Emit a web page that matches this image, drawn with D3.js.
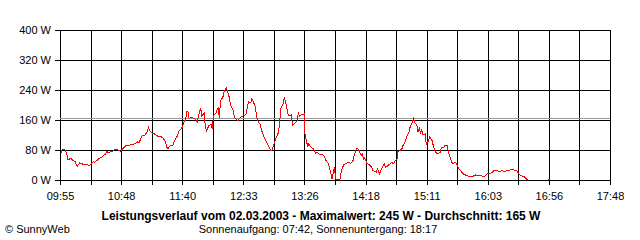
<!DOCTYPE html>
<html>
<head>
<meta charset="utf-8">
<script src="https://cdn.jsdelivr.net/npm/d3@7"></script>
<style>
  body { margin: 0; background: #fff; }
  svg { display: block; font-family: "Liberation Sans", Arial, sans-serif; font-size: 11px; }
</style>
</head>
<body>
<svg id="chart" width="640" height="240"></svg>
<script>
// readings of the power curve, 02.03.2003
const times = [
  "09:56","09:57","09:59","10:00","10:01","10:02","10:04","10:06","10:08","10:09",
  "10:10","10:12","10:14","10:16","10:18","10:20","10:22","10:24","10:25","10:27",
  "10:29","10:31","10:32","10:34","10:35","10:37","10:39","10:40","10:42","10:45",
  "10:47","10:49","10:51","10:52","10:55","10:59","11:02","11:03","11:04","11:06",
  "11:08","11:10","11:11","11:12","11:14","11:16","11:17","11:19","11:21","11:23",
  "11:24","11:25","11:27","11:28","11:30","11:32","11:33","11:34","11:36","11:37",
  "11:38","11:40","11:42","11:43","11:44","11:45","11:46","11:48","11:51","11:53",
  "11:54","11:56","11:57","11:59","12:00","12:01","12:03","12:05","12:06","12:07",
  "12:09","12:11","12:12","12:13","12:15","12:16","12:18","12:20","12:21","12:22",
  "12:24","12:25","12:26","12:28","12:30","12:33","12:35","12:36","12:37","12:39",
  "12:40","12:41","12:43","12:44","12:45","12:47","12:48","12:50","12:52","12:54",
  "12:56","12:57","12:58","13:00","13:01","13:03","13:04","13:05","13:07","13:08",
  "13:09","13:10","13:11","13:12","13:14","13:15","13:17","13:19","13:20","13:21",
  "13:23","13:24","13:25","13:25","13:26","13:27","13:28","13:29","13:31","13:33",
  "13:35","13:36","13:38","13:41","13:43","13:44","13:46","13:48","13:49","13:50",
  "13:51","13:52","13:54","13:56","13:57","13:59","14:01","14:03","14:05","14:07",
  "14:08","14:10","14:11","14:12","14:14","14:15","14:16","14:17","14:19","14:21",
  "14:23","14:24","14:27","14:28","14:30","14:31","14:33","14:34","14:35","14:37",
  "14:39","14:40","14:42","14:43","14:45","14:45","14:47","14:49","14:50","14:52",
  "14:53","14:55","14:56","14:58","14:59","15:00","15:02","15:03","15:04","15:05",
  "15:06","15:07","15:09","15:10","15:12","15:13","15:15","15:16","15:17","15:18",
  "15:20","15:22","15:23","15:25","15:26","15:28","15:29","15:30","15:32","15:33",
  "15:35","15:37","15:38","15:40","15:42","15:44","15:47","15:50","15:52","15:53",
  "15:55","15:57","15:59","16:01","16:02","16:05","16:07","16:09","16:11","16:13",
  "16:15","16:17","16:20","16:22","16:25","16:27","16:28","16:30","16:32","16:34",
  "16:36","16:37","16:50","16:55","16:56"
];
const watts = [
  71,82,82,76,67,53,58,53,49,40,
  37,46,43,41,42,37,44,49,47,53,
  58,60,64,69,76,73,77,76,82,80,
  76,84,89,93,93,96,102,98,107,120,
  120,129,140,131,126,123,121,117,116,114,
  109,108,87,84,93,93,100,107,118,129,
  133,140,158,160,182,183,164,167,164,154,
  169,192,171,178,142,131,145,148,136,171,
  178,194,165,211,220,234,245,229,211,198,
  185,167,163,158,167,171,176,191,209,206,
  216,211,194,171,158,149,136,118,105,92,
  80,78,85,105,114,127,158,192,203,222,
  207,194,176,171,174,145,151,158,181,169,
  176,173,176,148,114,105,87,96,87,83,
  71,74,69,68,59,50,43,18,3,18,
  34,3,0,3,25,41,44,47,44,52,
  65,83,85,80,65,69,56,59,44,41,
  34,25,21,29,16,27,38,43,34,38,
  44,47,43,50,56,74,78,83,92,103,
  114,127,140,154,164,154,145,127,140,123,
  136,121,123,96,105,114,105,92,83,74,
  69,74,87,87,92,93,74,65,47,43,
  47,38,29,23,16,13,9,9,14,11,
  11,13,9,11,16,18,21,27,25,23,
  25,23,25,27,27,25,25,14,11,9,
  3,0,null,2,0
];

const yTicks = [0, 80, 160, 240, 320, 400];
const xLabels = ["09:55","10:48","11:40","12:33","13:26","14:18","15:11","16:03","16:56","17:48"];
const average = 165;

const title = "Leistungsverlauf vom 02.03.2003 - Maximalwert: 245 W - Durchschnitt: 165 W";
const subtitle = "Sonnenaufgang: 07:42, Sonnenuntergang: 18:17";

const svg = d3.select("#chart");
const parse = d3.timeParse("%H:%M");
const data = times.map((t, i) => ({ t: parse(t), w: watts[i] }));

const t0 = parse(xLabels[0]);
const t1 = parse(xLabels[xLabels.length - 1]);

const x = d3.scaleTime().domain([t0, t1]).range([60, 610]);
const y = d3.scaleLinear().domain([0, 400]).range([180, 30]);

// 18 grid intervals, every other one labelled
const gridTimes = d3.range(19).map(i => new Date(+t0 + i * (t1 - t0) / 18));

const gx = svg.append("g")
    .attr("transform", "translate(0,180)")
    .call(d3.axisBottom(x)
        .tickValues(gridTimes)
        .tickSizeInner(-150)
        .tickSizeOuter(0)
        .tickPadding(12)
        .tickFormat((d, i) => i % 2 ? "" : xLabels[i / 2]));

const gy = svg.append("g")
    .attr("transform", "translate(60,0)")
    .call(d3.axisLeft(y)
        .tickValues(yTicks)
        .tickSizeInner(-550)
        .tickSizeOuter(0)
        .tickPadding(9)
        .tickFormat(d => d + " W"));

[gx, gy].forEach(g => {
    g.attr("font-family", null).attr("font-size", 11);
    g.select(".domain").remove();
    g.selectAll(".tick line").attr("stroke", "#000").attr("shape-rendering", "crispEdges");
    g.selectAll(".tick text").attr("fill", "#000");
});
gx.selectAll(".tick line").attr("y1", 5);
gy.selectAll(".tick line").attr("x1", -5);

// average line
svg.append("line")
    .attr("x1", x(t0)).attr("x2", x(t1))
    .attr("y1", y(average)).attr("y2", y(average))
    .attr("stroke", "#999")
    .attr("shape-rendering", "crispEdges");

const line = d3.line()
    .defined(d => d.w != null)
    .x(d => x(d.t))
    .y(d => y(d.w));

svg.append("path")
    .datum(data)
    .attr("fill", "none")
    .attr("stroke", "#ff0000")
    .attr("stroke-width", 1)
    .attr("shape-rendering", "crispEdges")
    .attr("d", line);

svg.append("text")
    .attr("x", 321).attr("y", 220)
    .attr("text-anchor", "middle")
    .attr("font-weight", "bold")
    .attr("font-size", 12)
    .text(title);

svg.append("text")
    .attr("x", 318).attr("y", 233)
    .attr("text-anchor", "middle")
    .text(subtitle);

svg.append("text")
    .attr("x", 5).attr("y", 233)
    .text("© SunnyWeb");
</script>
</body>
</html>
